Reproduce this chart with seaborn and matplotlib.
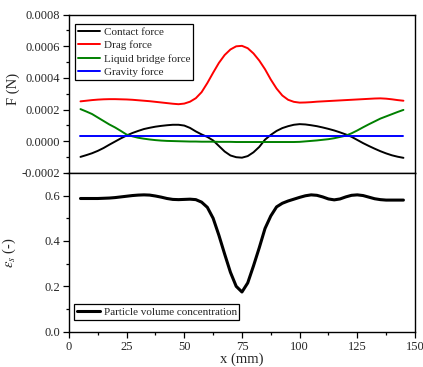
import pandas as pd
import matplotlib
matplotlib.use("Agg")
import matplotlib.pyplot as plt
from matplotlib.ticker import MultipleLocator, FormatStrFormatter
import seaborn as sns

# Position along the bed (mm), every 2.5 mm
x_mm = [5 + 2.5 * i for i in range(57)]

# Forces acting on particles (N)
contact_force = [-0.000099, -0.000088, -0.000076, -0.000061, -0.000043, -0.000022,
                 -0.000002, 0.000018, 0.000036, 0.000052, 0.000065, 0.000077,
                 0.000085, 0.000092, 0.000097, 0.000101, 0.000104, 0.000104,
                 0.000099, 0.000084, 0.000062, 0.000043, 0.000027, 0.000005,
                 -0.000030, -0.000065, -0.000090, -0.000101, -0.000104, -0.000094,
                 -0.000070, -0.000036, 0.000010, 0.000040, 0.000065, 0.000083,
                 0.000095, 0.000104, 0.000108, 0.000106, 0.000101, 0.000095,
                 0.000087, 0.000078, 0.000068, 0.000056, 0.000043, 0.000028,
                 0.000008, -0.000012, -0.000030, -0.000047, -0.000063, -0.000077,
                 -0.000089, -0.000098, -0.000105]
drag_force = [0.000252, 0.000256, 0.000260, 0.000263, 0.000265, 0.000266,
              0.000266, 0.000265, 0.000264, 0.000262, 0.000259, 0.000256,
              0.000253, 0.000249, 0.000245, 0.000241, 0.000237, 0.000234,
              0.000238, 0.000250, 0.000272, 0.000310, 0.000368, 0.000433,
              0.000495, 0.000545, 0.000580, 0.000600, 0.000603, 0.000588,
              0.000555, 0.000510, 0.000455, 0.000390, 0.000333, 0.000289,
              0.000262, 0.000249, 0.000244, 0.000245, 0.000247, 0.000250,
              0.000252, 0.000254, 0.000256, 0.000258, 0.000260, 0.000262,
              0.000264, 0.000266, 0.000268, 0.000270, 0.000271, 0.000269,
              0.000265, 0.000260, 0.000256]
liquid_bridge_force = [0.000203, 0.000188, 0.000172, 0.000150, 0.000128, 0.000106,
                       0.000087, 0.000065, 0.000042, 0.000031, 0.000022, 0.000016,
                       0.000011, 0.000007, 0.000004, 0.000002, 0.000001, 0.000000,
                       -0.000001, -0.000002, -0.000002, -0.000003, -0.000003,
                       -0.000003, -0.000004, -0.000004, -0.000004, -0.000005,
                       -0.000005, -0.000005, -0.000005, -0.000005, -0.000005,
                       -0.000005, -0.000005, -0.000005, -0.000005, -0.000005,
                       -0.000004, -0.000001, 0.000002, 0.000005, 0.000009,
                       0.000013, 0.000019, 0.000027, 0.000035, 0.000050, 0.000068,
                       0.000088, 0.000107, 0.000125, 0.000143, 0.000157, 0.000171,
                       0.000185, 0.000198]
gravity_force = [0.000035] * len(x_mm)

# Particle volume concentration (-)
volume_concentration = [0.587, 0.587, 0.587, 0.587, 0.588, 0.589, 0.591, 0.594,
                        0.597, 0.600, 0.602, 0.603, 0.602, 0.598, 0.593, 0.587,
                        0.583, 0.582, 0.583, 0.584, 0.582, 0.571, 0.548, 0.500,
                        0.425, 0.342, 0.262, 0.200, 0.175, 0.215, 0.290, 0.370,
                        0.455, 0.510, 0.550, 0.566, 0.576, 0.584, 0.592, 0.599,
                        0.603, 0.601, 0.594, 0.585, 0.581, 0.585, 0.594, 0.601,
                        0.603, 0.600, 0.593, 0.586, 0.582, 0.580, 0.580, 0.580,
                        0.580]

force_names = ["Contact force", "Drag force", "Liquid bridge force", "Gravity force"]
force_colors = ["black", "red", "green", "blue"]

forces = pd.DataFrame({
    "x": x_mm * 4,
    "F": contact_force + drag_force + liquid_bridge_force + gravity_force,
    "force": sum([[n] * len(x_mm) for n in force_names], []),
})
conc = pd.DataFrame({"x": x_mm, "eps": volume_concentration})

sns.set_style("ticks")
plt.rcParams["font.family"] = ["Liberation Serif", "DejaVu Serif"]
plt.rcParams["mathtext.fontset"] = "stix"

fig = plt.figure(figsize=(4.23, 3.67), dpi=100)
ax1 = fig.add_axes([0.163, 0.529, 0.818, 0.431])
ax2 = fig.add_axes([0.163, 0.0962, 0.818, 0.4328])

sns.lineplot(data=forces, x="x", y="F", hue="force", hue_order=force_names,
             palette=force_colors, linewidth=1.4, ax=ax1, sort=False)
sns.lineplot(data=conc, x="x", y="eps", color="black", linewidth=2.2, ax=ax2,
             label="Particle volume concentration", sort=False)

for ax in (ax1, ax2):
    ax.set_xlim(0, 150)
    for s in ax.spines.values():
        s.set_linewidth(1.0)
        s.set_color("black")
    ax.tick_params(which="both", direction="out", color="black", labelsize=9,
                   right=False, top=False, pad=2.5)
    ax.tick_params(which="major", length=4, width=0.9)
    ax.tick_params(which="minor", length=2, width=0.9)

ax1.set_ylim(-0.0002, 0.0008)
ax1.yaxis.set_major_locator(MultipleLocator(0.0002))
ax1.yaxis.set_minor_locator(MultipleLocator(0.0001))
ax1.yaxis.set_major_formatter(FormatStrFormatter("%.4f"))
ax1.tick_params(axis="x", which="both", bottom=False, labelbottom=False)
ax1.set_xlabel("")
ax1.set_ylabel("F (N)", fontsize=10.5)
ax1.yaxis.set_label_coords(-0.142, 0.53)

ax2.set_ylim(0, 0.7)
ax2.yaxis.set_major_locator(MultipleLocator(0.2))
ax2.yaxis.set_minor_locator(MultipleLocator(0.1))
ax2.yaxis.set_major_formatter(FormatStrFormatter("%.1f"))
ax2.xaxis.set_major_locator(MultipleLocator(25))
ax2.xaxis.set_minor_locator(MultipleLocator(12.5))
ax2.set_xlabel("x (mm)", fontsize=10.5, labelpad=0)
ax2.set_ylabel(r"$\varepsilon_s$ (-)", fontsize=10.5)
ax2.yaxis.set_label_coords(-0.146, 0.5)

leg1 = ax1.legend(loc="upper left", bbox_to_anchor=(0.018, 0.94), frameon=True,
                  fancybox=False, edgecolor="black", framealpha=1,
                  handlelength=2.0, handletextpad=0.35, borderpad=0.25,
                  labelspacing=0.33, borderaxespad=0.0, fontsize=8)
leg1.get_frame().set_linewidth(0.9)
leg2 = ax2.legend(loc="lower left", bbox_to_anchor=(0.015, 0.075), frameon=True,
                  fancybox=False, edgecolor="black", framealpha=1,
                  handlelength=2.1, handletextpad=0.3, borderpad=0.25,
                  borderaxespad=0.0, fontsize=8)
leg2.get_frame().set_linewidth(0.9)

fig.savefig("out.png", dpi=100)
